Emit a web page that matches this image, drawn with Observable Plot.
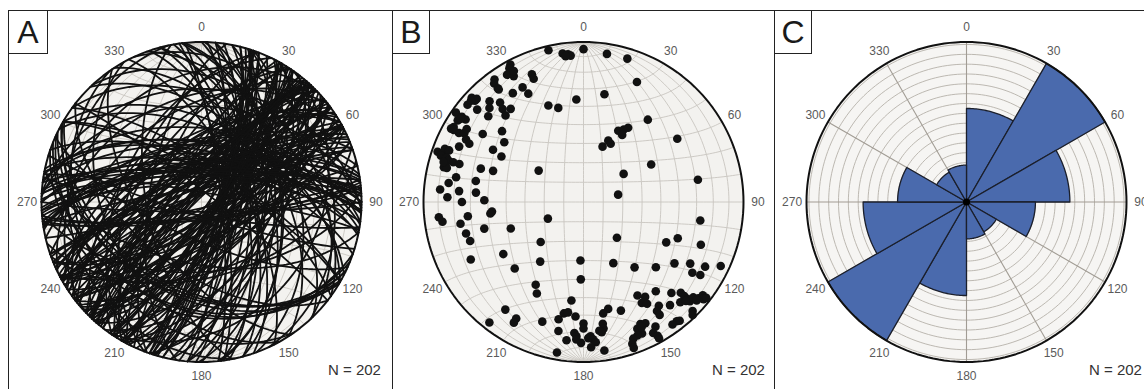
<!DOCTYPE html>
<html>
<head>
<meta charset="utf-8">
<script src="https://cdn.jsdelivr.net/npm/d3@7"></script>
<script src="https://cdn.jsdelivr.net/npm/@observablehq/plot@0.6"></script>
<style>
  html, body { margin: 0; padding: 0; background: #fff; }
  #wrap { position: relative; width: 1144px; height: 389px; overflow: hidden; font-family: "Liberation Sans", Arial, sans-serif; }
  .plotbox { position: absolute; top: 0; width: 382px; height: 389px; }
  .plotbox svg { max-width: none !important; width: 382px; height: 389px; }
  .vline { position: absolute; top: 10px; width: 0; height: 400px; border-left: 1.6px solid #222; z-index: 5; }
  .hline { position: absolute; left: 8px; top: 10px; width: 1200px; height: 0; border-top: 1.6px solid #222; z-index: 5; }
  .letter { position: absolute; top: 10px; height: 44px; box-sizing: border-box; border: 1.6px solid #222; background: #fff;
            display: flex; align-items: center; justify-content: center; font-size: 32px; color: #1a1a1a; z-index: 6; }
  .nlab { position: absolute; top: 362px; font-size: 15px; line-height: 15px; color: #333; z-index: 6; white-space: nowrap; }
</style>
</head>
<body>
<div id="wrap"></div>
<script>
// ---------------- DATA ----------------
// Poles to planes (panel B), trend / plunge in degrees, lower hemisphere
const poleTrend = [347,352,354,355,0,356,340,345,338,338,332,333,327,332,331,329,331,324,323,323,
323,313,313,314,310,317,315,320,319,322,318,311,312,305,305,305,303,300,299,304,
311,307,299,300,302,298,297,294,300,299,289,289,291,291,288,288,287,287,287,284,
284,281,288,289,305,281,275,278,275,275,272,270,271,264,263,264,262,263,260,255,
251,255,250,245,227,237,243,216,226,210,207,183,182,187,216,210,210,218,199,192,
190,188,184,191,187,184,183,180,180,190,78,99,137,116,111,110,154,142,132,124,
120,123,122,118,115,141,136,150,147,150,148,144,146,146,140,133,133,133,136,133,
131,130,128,129,128,135,136,142,141,144,161,167,170,171,171,172,155,153,157,156,
158,150,152,151,151,160,161,161,177,178,176,175,177,172,181,9,17,24,11,38,
26,29,31,30,22,25,19,56,61,55,79,286,304,299,312,131,134,155,183,173,332,353];
const polePlunge = [3,7,8,9,5,36,36,39,15,18,20,25,20,3,5,8,11,6,8,12,
13,5,8,8,6,15,18,20,24,27,28,13,21,3,8,11,7,7,6,25,
33,38,12,15,15,18,21,16,35,41,4,8,8,11,7,11,13,16,20,11,
13,20,33,40,62,32,11,16,23,33,16,25,38,42,41,10,12,28,23,25,
26,36,50,70,60,40,22,52,40,40,36,60,50,38,18,17,14,5,22,26,
30,31,29,19,14,19,17,25,22,5,72,27,65,42,37,23,55,47,39,32,
24,20,15,15,6,29,22,33,30,28,26,21,19,16,17,18,15,12,14,10,
10,7,6,4,3,4,2,6,5,6,29,32,30,24,21,19,17,16,15,11,
11,11,8,5,3,10,7,4,17,16,15,13,10,7,13,7,7,19,32,35,
49,47,45,50,56,57,60,30,50,65,28,10,8,8,6,7,12,15,15,20,8,9];

// Rose diagram of strikes (panel C): 30-degree bins, counts (bidirectional)
const binStart = [0, 30, 60, 90, 120, 150];
const binCount = [38, 65, 42, 28, 14, 15];
const binWidth = 30;
const ringStep = 4;

// Azimuth tick labels
const degLabels = [0, 30, 60, 90, 120, 150, 180, 210, 240, 270, 300, 330];
const panelLetters = ["A", "B", "C"];

// ---------------- GEOMETRY HELPERS ----------------
const toRad = Math.PI / 180;
const R = 160, W = 382, H = 389, CX = 191, CY = 201.5;
const LR = 1.09; // label radius relative to primitive circle
const FONT = "Liberation Sans, Arial, sans-serif";

// Lambert equal-area (Schmidt) projection, lower hemisphere, unit primitive
function proj(e, n, d) {
  const k = 1 / Math.sqrt(1 + Math.max(0, d));
  return [e * k, n * k];
}
function lineVec(trend, plunge) {
  const t = trend * toRad, p = plunge * toRad;
  return [Math.sin(t) * Math.cos(p), Math.cos(t) * Math.cos(p), Math.sin(p)];
}
function circlePts(r, id) {
  return d3.range(0, 361, 2).map(a => ({x: r * Math.sin(a * toRad), y: r * Math.cos(a * toRad), id}));
}

// Net grid (equatorial, 10 degree)
const grid = [];
for (let lam = -80; lam <= 80; lam += 10)
  for (let phi = -90; phi <= 90; phi += 2) {
    const e = Math.cos(phi * toRad) * Math.sin(lam * toRad), n = Math.sin(phi * toRad), d = Math.cos(phi * toRad) * Math.cos(lam * toRad);
    const [x, y] = proj(e, n, d); grid.push({x, y, id: "m" + lam});
  }
for (let phi = -80; phi <= 80; phi += 10)
  for (let lam = -90; lam <= 90; lam += 2) {
    const e = Math.cos(phi * toRad) * Math.sin(lam * toRad), n = Math.sin(phi * toRad), d = Math.cos(phi * toRad) * Math.cos(lam * toRad);
    const [x, y] = proj(e, n, d); grid.push({x, y, id: "p" + phi});
  }

// Poles
const poles = poleTrend.map((t, i) => { const [x, y] = proj(...lineVec(t, polePlunge[i])); return {x, y}; });

// Great circles of the planes
const gc = [];
poleTrend.forEach((t, i) => {
  const tr = t * toRad, pr = polePlunge[i] * toRad;
  const s = [Math.cos(tr), -Math.sin(tr), 0];
  const dv = [-Math.sin(tr) * Math.sin(pr), -Math.cos(tr) * Math.sin(pr), Math.cos(pr)];
  for (let f = 0; f <= 180; f += 3) {
    const c = Math.cos(f * toRad), sn = Math.sin(f * toRad);
    const [x, y] = proj(c * s[0] + sn * dv[0], c * s[1] + sn * dv[1], c * s[2] + sn * dv[2]);
    gc.push({x, y, id: i});
  }
});

// Rose petals
const maxCount = d3.max(binCount);
const petals = [];
binStart.forEach((a0, i) => {
  const r = binCount[i] / maxCount;
  [0, 180].forEach(off => {
    const id = i + "-" + off;
    petals.push({x: 0, y: 0, id});
    for (let a = a0 + off; a <= a0 + off + binWidth; a += 1) petals.push({x: r * Math.sin(a * toRad), y: r * Math.cos(a * toRad), id});
    petals.push({x: 0, y: 0, id});
  });
});
const rings = d3.range(ringStep, maxCount, ringStep).flatMap(v => circlePts(v / maxCount, v));
const spokes = d3.range(0, 360, 30);

// ---------------- PLOTS ----------------
function basePlot(marks) {
  return Plot.plot({
    width: W, height: H, margin: 0,
    x: {domain: [-CX / R, (W - CX) / R], axis: null},
    y: {domain: [-(H - CY) / R, CY / R], axis: null},
    style: {background: "transparent", overflow: "visible", fontFamily: FONT, maxWidth: "none"},
    marks
  });
}
const labelMark = () => Plot.text(degLabels, {
  x: a => LR * Math.sin(a * toRad), y: a => LR * Math.cos(a * toRad),
  text: a => String(a), fontSize: 12, fill: "#5a5a5a"
});
const disk = () => Plot.line(circlePts(1, "bg"), {x: "x", y: "y", fill: "#f3f2ef", stroke: "none"});
const rim = () => Plot.line(circlePts(1, "rim"), {x: "x", y: "y", stroke: "#111", strokeWidth: 2});
const gridMark = () => Plot.line(grid, {x: "x", y: "y", z: "id", stroke: "#c8c5bf", strokeWidth: 0.9});

const plotA = basePlot([
  disk(), gridMark(),
  Plot.line(gc, {x: "x", y: "y", z: "id", stroke: "#111", strokeWidth: 1.8}),
  rim(), labelMark()
]);
const plotB = basePlot([
  disk(), gridMark(), rim(),
  Plot.dot(poles, {x: "x", y: "y", r: 4.3, fill: "#111", stroke: "none"}),
  labelMark()
]);
const plotC = basePlot([
  Plot.line(circlePts(1, "bg"), {x: "x", y: "y", fill: "#f6f5f3", stroke: "none"}),
  Plot.line(rings, {x: "x", y: "y", z: "id", stroke: "#b6b1a9", strokeWidth: 0.9}),
  Plot.link(spokes, {x1: 0, y1: 0, x2: a => Math.sin(a * toRad), y2: a => Math.cos(a * toRad), stroke: "#a19c94", strokeWidth: 1.1}),
  Plot.line(petals, {x: "x", y: "y", z: "id", fill: "#4a6aad", stroke: "#1b1f2b", strokeWidth: 1.3}),
  rim(),
  Plot.dot([0], {x: () => 0, y: () => 0, r: 3.5, fill: "#000", stroke: "none"}),
  labelMark()
]);

// ---------------- LAYOUT ----------------
const wrap = document.getElementById("wrap");
const plotLeft = [10, 392, 775];
[plotA, plotB, plotC].forEach((p, i) => {
  const box = document.createElement("div");
  box.className = "plotbox";
  box.style.left = plotLeft[i] + "px";
  box.appendChild(p);
  wrap.appendChild(box);
});
const panelLeft = [8, 392, 774];
const letterW = [40, 38, 38];
const nLeft = [328, 712, 1089];
const h = document.createElement("div"); h.className = "hline"; wrap.appendChild(h);
panelLeft.forEach((x, i) => {
  const v = document.createElement("div"); v.className = "vline"; v.style.left = x + "px"; wrap.appendChild(v);
  const l = document.createElement("div"); l.className = "letter"; l.style.left = x + "px"; l.style.width = letterW[i] + "px";
  l.textContent = panelLetters[i]; wrap.appendChild(l);
  const n = document.createElement("div"); n.className = "nlab"; n.style.left = nLeft[i] + "px";
  n.textContent = "N = " + (i < 2 ? poleTrend.length : d3.sum(binCount));
  wrap.appendChild(n);
});
</script>
</body>
</html>
